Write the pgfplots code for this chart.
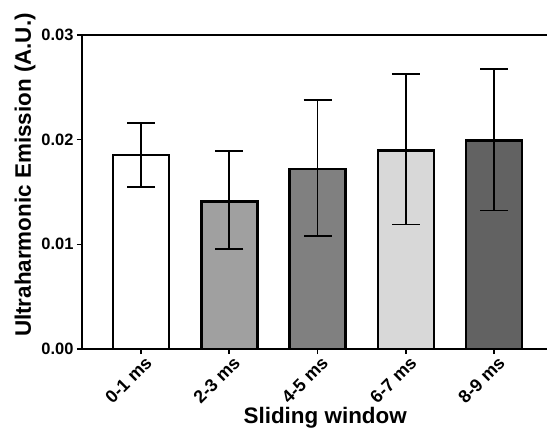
\documentclass[border=0pt]{standalone}
\usepackage{fontspec}
\setmainfont{Liberation Sans}
\usepackage{pgfplots}
\pgfplotsset{compat=1.18}
\definecolor{gA}{RGB}{160,160,160}
\definecolor{gB}{RGB}{128,128,128}
\definecolor{gC}{RGB}{216,216,216}
\definecolor{gD}{RGB}{98,98,98}

\begin{document}
\begin{tikzpicture}
\path[use as bounding box] (-82bp,-80bp) rectangle (465bp,349bp);
\begin{axis}[
    at={(0,0)}, anchor=south west,
    scale only axis,
    width=465bp, height=314bp,
    xmin=-0.669, xmax=4.6,
    ymin=0, ymax=0.03,
    axis x line*=box, axis y line*=left,
    axis line style={line width=1.6bp},
    xtick={0,1,2,3,4},
    xticklabels={0-1 ms,2-3 ms,4-5 ms,6-7 ms,8-9 ms},
    xtick pos=bottom, ytick pos=left,
    ytick={0,0.01,0.02,0.03},
    scaled y ticks=false,
    yticklabel style={/pgf/number format/.cd, fixed, fixed zerofill, precision=2, assume math mode=true},
    tick align=outside,
    major tick length=5bp,
    tick style={line width=1.6bp, black},
    ticklabel style={font=\fontsize{16.5}{18}\selectfont\bfseries},
    xticklabel style={font=\fontsize{18}{20}\selectfont\bfseries, xshift=3bp, rotate=45, anchor=north east, inner sep=1bp},
    xlabel={Sliding window},
    ylabel={Ultraharmonic Emission (A.U.)},
    label style={font=\fontsize{22.5}{25}\selectfont\bfseries},
    xlabel style={at={(axis description cs:0.523,-0.218)}, anchor=center},
    ylabel style={at={(axis description cs:-0.1226,0.554)}, anchor=center},
    ybar, bar width=56bp, bar shift=0pt,
    every axis plot/.append style={draw=black, line width=2.6bp},
    error bars/y dir=both, error bars/y explicit,
    error bars/error bar style={line width=1.8bp, black},
    error bars/error mark options={rotate=90, mark size=14bp, line width=1.8bp, black},
]
\addplot[fill=white] coordinates {(0,0.01854) += (0,0.00303) -= (0,0.00305)};
\addplot[fill=gA] coordinates {(1,0.01412) += (0,0.00477) -= (0,0.00455)};
\addplot[fill=gB] coordinates {(2,0.01718) += (0,0.00658) -= (0,0.00640)};
\addplot[fill=gC] coordinates {(3,0.01899) += (0,0.00725) -= (0,0.00710)};
\addplot[fill=gD] coordinates {(4,0.01991) += (0,0.00684) -= (0,0.00668)};
\end{axis}
\end{tikzpicture}
\end{document}
